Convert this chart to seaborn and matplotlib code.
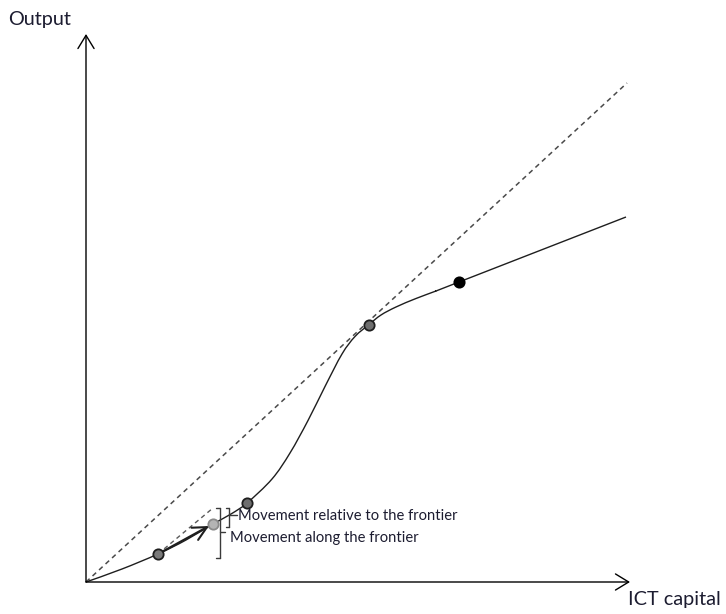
import matplotlib
matplotlib.use("Agg")
import matplotlib.pyplot as plt
from matplotlib.path import Path
from matplotlib.patches import PathPatch
import seaborn as sns
import pandas as pd

# ---- data (pixel-like units; origin at bottom-left of axes) ----
frontier_x = [0, 36, 72, 100, 127, 145, 161, 186, 204, 222, 239, 256, 269, 283, 295, 310, 330, 350, 373, 540]
frontier_y = [0, 13, 28, 42, 58, 68, 79, 103, 129, 161.5, 195.5, 228, 245.5, 257.5, 267, 275, 283.5, 291, 300, 365]

diag_x = [0, 541]
diag_y = [0, 499]

shift_x = [72, 127]      # dashed shift line from point A
shift_y = [28, 74]

point_names = ["A", "B", "C", "D", "E"]
point_x = [72, 127, 161, 283, 373]
point_y = [28, 58, 79, 257.5, 300]

x_label = "ICT capital"
y_label = "Output"
label_relative = "Movement relative to the frontier"
label_along = "Movement along the frontier"

axis_x_end = 544
axis_y_end = 548

# ---- plotting ----
sns.set_style("white")
plt.rcParams["font.family"] = ["Lato", "DejaVu Sans"]
text_color = "#1c1c30"

fig = plt.figure(figsize=(7.26, 6.14), dpi=100)
ax = fig.add_axes([0, 0, 1, 1])
ax.set_xlim(-86, 640)
ax.set_ylim(-32, 582)
ax.set_axis_off()

diag = pd.DataFrame({"x": diag_x, "y": diag_y})
shift = pd.DataFrame({"x": shift_x, "y": shift_y})
pts = pd.DataFrame({"name": point_names, "x": point_x, "y": point_y})

# dashed frontier ray
sns.lineplot(data=diag, x="x", y="y", ax=ax, color="#4a4a4a", lw=1.1,
             linestyle=(0, (3.2, 2.6)), sort=False, estimator=None)
# dashed shift line
sns.lineplot(data=shift, x="x", y="y", ax=ax, color="#5a5a5a", lw=1.0,
             linestyle=(0, (3.2, 2.6)), sort=False, estimator=None)

# frontier curve: smooth (Catmull-Rom style Bezier) line through the read points
verts = [(frontier_x[0], frontier_y[0])]
codes = [Path.MOVETO]
n = len(frontier_x)
for i in range(n - 1):
    p0 = (frontier_x[max(i - 1, 0)], frontier_y[max(i - 1, 0)])
    p1 = (frontier_x[i], frontier_y[i])
    p2 = (frontier_x[i + 1], frontier_y[i + 1])
    p3 = (frontier_x[min(i + 2, n - 1)], frontier_y[min(i + 2, n - 1)])
    c1 = (p1[0] + (p2[0] - p0[0]) / 6, p1[1] + (p2[1] - p0[1]) / 6)
    c2 = (p2[0] - (p3[0] - p1[0]) / 6, p2[1] - (p3[1] - p1[1]) / 6)
    if i == n - 2:
        c2 = (p2[0] - (p2[0] - p1[0]) / 3, p2[1] - (p2[1] - p1[1]) / 3)
    verts += [c1, c2, p2]
    codes += [Path.CURVE4] * 3
ax.add_patch(PathPatch(Path(verts, codes), facecolor="none", edgecolor="#1e1e1e", lw=1.0))

# arrow A -> B
ax.annotate("", xy=(point_x[1] - 4, point_y[1] - 2), xytext=(point_x[0], point_y[0]),
            arrowprops=dict(arrowstyle="->,head_length=1.0,head_width=0.5",
                            mutation_scale=10, color="#1e1e1e", lw=1.5,
                            shrinkA=0, shrinkB=0))

# points
fills = {"A": "#7a7a7a", "B": "#b4b4b4", "C": "#6e6e6e", "D": "#6e6e6e", "E": "#000000"}
edges = {"A": "#1e1e1e", "B": "#8a8a8a", "C": "#1e1e1e", "D": "#1e1e1e", "E": "#000000"}
for _, r in pts.iterrows():
    sns.scatterplot(x=[r.x], y=[r.y], ax=ax, s=55, color=fills[r["name"]],
                    edgecolor=edges[r["name"]], linewidth=1.3, zorder=5)

# axes arrows
arrow_kw = dict(arrowstyle="->,head_length=0.95,head_width=0.58", mutation_scale=10,
                color="black", lw=1.0, shrinkA=0, shrinkB=0)
ax.annotate("", xy=(0, axis_y_end), xytext=(0, 0), arrowprops=arrow_kw)
ax.annotate("", xy=(axis_x_end, 0), xytext=(0, 0), arrowprops=arrow_kw)

# axis labels
ax.text(-78, 563, y_label, fontsize=14.3, color=text_color, ha="left", va="center")
ax.text(542, -17, x_label, fontsize=14.3, color=text_color, ha="left", va="center")

# brackets
bk = dict(color="#3a3a3a", lw=1.0)
# big bracket (along the frontier)
bx = 134
ax.plot([bx, bx], [24, 74], **bk)
ax.plot([bx - 4, bx], [74, 74], **bk)
ax.plot([bx - 4, bx], [24, 24], **bk)
ax.plot([bx, bx + 5], [50, 50], **bk)
# small bracket (relative to the frontier)
sx = 143
ax.plot([sx, sx], [55, 74], **bk)
ax.plot([sx - 3.5, sx], [74, 74], **bk)
ax.plot([sx - 3.5, sx], [55, 55], **bk)
ax.plot([sx, sx + 8], [67, 67], **bk)

ax.text(152, 66, label_relative, fontsize=10.6, color=text_color, ha="left", va="center")
ax.text(144, 44, label_along, fontsize=10.6, color=text_color, ha="left", va="center")

fig.savefig("out.png", dpi=100)
